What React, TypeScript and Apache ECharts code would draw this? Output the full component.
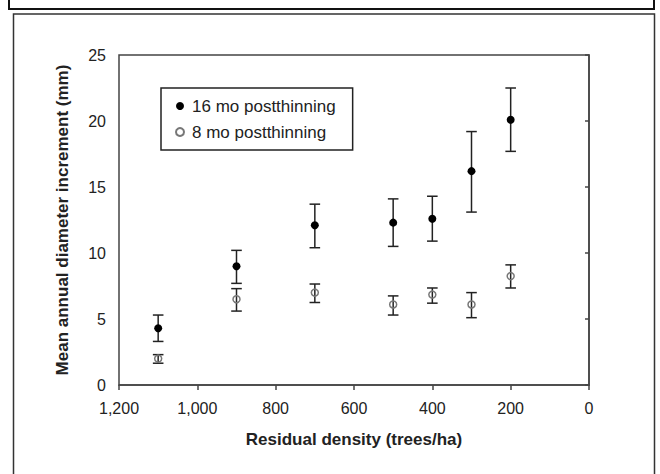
import React, { useEffect, useRef } from "react";
import * as echarts from "echarts";

const densities = [1100, 900, 700, 500, 400, 300, 200];
const mean16 = [4.3, 9.0, 12.1, 12.3, 12.6, 16.2, 20.1];
const low16 = [3.3, 7.7, 10.4, 10.5, 10.9, 13.1, 17.7];
const high16 = [5.3, 10.2, 13.7, 14.1, 14.3, 19.2, 22.5];
const mean8 = [2.0, 6.5, 7.0, 6.1, 6.85, 6.1, 8.25];
const low8 = [1.65, 5.6, 6.25, 5.3, 6.2, 5.1, 7.35];
const high8 = [2.3, 7.3, 7.65, 6.75, 7.35, 7.0, 9.1];
const seriesNames = ["16 mo postthinning", "8 mo postthinning"];
const xTitle = "Residual density (trees/ha)";
const yTitle = "Mean annual diameter increment (mm)";

const FONT = "'Liberation Sans', Arial, sans-serif";

function errorRender(params: any, api: any) {
  const x = api.value(0);
  const lo = api.value(1);
  const hi = api.value(2);
  const pT = api.coord([x, hi]);
  const pB = api.coord([x, lo]);
  const hw = 5.3;
  const style = { stroke: "#222", lineWidth: 1.5 };
  return {
    type: "group",
    children: [
      { type: "line", shape: { x1: pT[0], y1: pT[1], x2: pB[0], y2: pB[1] }, style },
      { type: "line", shape: { x1: pT[0] - hw, y1: pT[1], x2: pT[0] + hw, y2: pT[1] }, style },
      { type: "line", shape: { x1: pB[0] - hw, y1: pB[1], x2: pB[0] + hw, y2: pB[1] }, style },
    ],
  };
}

export default function App() {
  const ref = useRef<HTMLDivElement>(null);
  useEffect(() => {
    if (!ref.current) return;
    const chart = echarts.init(ref.current, null, { renderer: "svg" });
    const err16 = densities.map((d, i) => [d, low16[i], high16[i]]);
    const err8 = densities.map((d, i) => [d, low8[i], high8[i]]);
    const pts16 = densities.map((d, i) => [d, mean16[i]]);
    const pts8 = densities.map((d, i) => [d, mean8[i]]);
    chart.setOption({
      animation: false,
      backgroundColor: "#fff",
      textStyle: { fontFamily: FONT },
      grid: {
        left: 119,
        right: 71,
        top: 55,
        bottom: 89,
        show: true,
        borderColor: "#444",
        borderWidth: 1.5,
        backgroundColor: "transparent",
      },
      graphic: [
        {
          type: "rect",
          shape: { x: 9, y: -10, width: 645, height: 19 },
          style: { fill: "none", stroke: "#111", lineWidth: 2 },
          silent: true,
        },
        {
          type: "rect",
          shape: { x: 13.5, y: 14, width: 641, height: 480 },
          style: { fill: "none", stroke: "#333", lineWidth: 1.5 },
          silent: true,
        },
      ],
      legend: {
        data: seriesNames,
        orient: "vertical",
        left: 161,
        top: 88,
        padding: [9, 17, 9, 14],
        itemWidth: 8,
        itemHeight: 8,
        itemGap: 8,
        borderColor: "#222",
        borderWidth: 1.5,
        textStyle: {
          fontFamily: FONT,
          fontSize: 17,
          color: "#222",
          lineHeight: 18,
          padding: [0, 0, 0, 3],
        },
      },
      xAxis: {
        type: "value",
        min: 0,
        max: 1200,
        interval: 200,
        inverse: true,
        name: xTitle,
        nameLocation: "middle",
        nameGap: 46,
        nameTextStyle: { fontFamily: FONT, fontSize: 17, fontWeight: "bold", color: "#222" },
        axisLine: { show: true, lineStyle: { color: "#444", width: 1.5 } },
        axisTick: { show: true, length: 5, lineStyle: { color: "#444", width: 1.5 } },
        axisLabel: {
          fontFamily: FONT,
          fontSize: 16,
          color: "#222",
          margin: 15,
          formatter: (v: number) => v.toLocaleString("en-US"),
        },
        splitLine: { show: false },
      },
      yAxis: {
        type: "value",
        min: 0,
        max: 25,
        interval: 5,
        name: yTitle,
        nameLocation: "middle",
        nameGap: 48,
        nameTextStyle: { fontFamily: FONT, fontSize: 17, fontWeight: "bold", color: "#222" },
        axisLine: { show: true, lineStyle: { color: "#444", width: 1.5 } },
        axisTick: { show: true, length: 4, lineStyle: { color: "#444", width: 1.5 } },
        axisLabel: { fontFamily: FONT, fontSize: 16, color: "#222", margin: 13 },
        splitLine: { show: false },
      },
      series: [
        {
          type: "custom",
          renderItem: errorRender,
          data: err16,
          encode: { x: 0, y: [1, 2] },
          z: 3,
          silent: true,
        },
        {
          type: "custom",
          renderItem: errorRender,
          data: err8,
          encode: { x: 0, y: [1, 2] },
          z: 3,
          silent: true,
        },
        {
          name: seriesNames[0],
          type: "scatter",
          data: pts16,
          symbol: "circle",
          symbolSize: 8,
          itemStyle: { color: "#000", opacity: 1 },
          z: 4,
        },
        {
          name: seriesNames[1],
          type: "scatter",
          data: pts8,
          symbol: "circle",
          symbolSize: 7,
          itemStyle: { color: "transparent", borderColor: "#777", borderWidth: 1.5, opacity: 1 },
          z: 4,
        },
      ],
    });
    return () => chart.dispose();
  }, []);
  return (
    <div
      ref={ref}
      style={{ position: "fixed", left: 0, top: 0, width: 660, height: 474 }}
    />
  );
}
